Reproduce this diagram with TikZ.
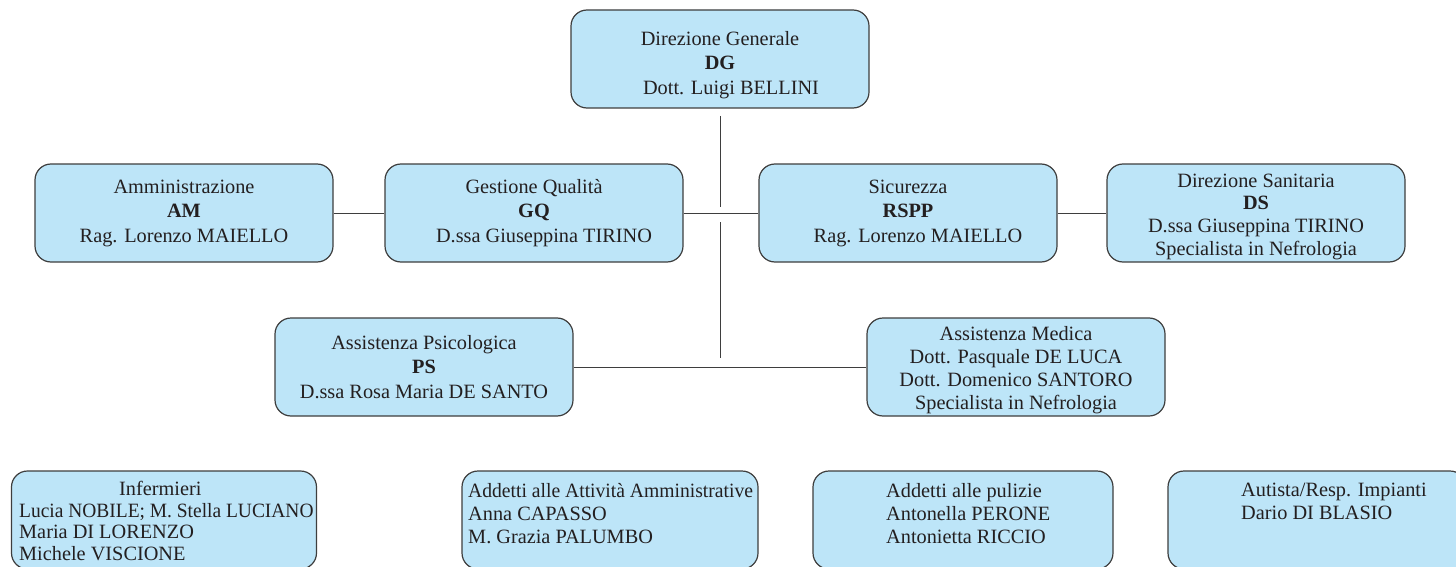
\documentclass[tikz,border=0pt]{standalone}
\usepackage{fontspec}
\usepackage{graphicx}
\setmainfont{Liberation Serif}

\definecolor{boxfill}{RGB}{189,229,248}
\definecolor{boxline}{RGB}{62,62,62}
\definecolor{ink}{RGB}{35,31,32}
\newcommand{\topgap}[1]{\rule{0pt}{#1}}
\newcommand{\squeeze}[2]{\scalebox{#1}[1]{#2}}

\begin{document}
\begin{tikzpicture}[x=1pt,y=-1pt]
  \tikzstyle{box}=[draw=boxline,line width=1.2pt,fill=boxfill,rounded corners=16pt,minimum width=298pt,minimum height=98pt,inner sep=0pt,align=center,text=ink,font=\fontsize{20.3}{24.5}\selectfont]
  \tikzstyle{dense}=[font=\fontsize{20.3}{22.8}\selectfont]
  \tikzstyle{list}=[anchor=north west,inner sep=0pt,align=left,text=ink,font=\fontsize{20.3}{23}\selectfont]
  \tikzstyle{link}=[draw=boxline,line width=1pt]
  \useasboundingbox (0,0) rectangle (1456,567);
  \clip (0,0) rectangle (1456,567);

  \node[box] (dg) at (720,59) {\topgap{26pt}Direzione Generale\\\textbf{DG}\\\hspace*{22pt}Dott. Luigi BELLINI};

  \node[box] (am) at (184,213) {Amministrazione\\\textbf{AM}\\Rag. Lorenzo MAIELLO};
  \node[box] (gq) at (534,213) {Gestione Qualità\\\textbf{GQ}\\\hspace*{20pt}D.ssa Giuseppina TIRINO};
  \node[box] (rspp) at (908,213) {Sicurezza\\\textbf{RSPP}\\\hspace*{20pt}Rag. Lorenzo MAIELLO};
  \node[box,dense] (ds) at (1256,213) {\topgap{21pt}Direzione Sanitaria\\\textbf{DS}\\D.ssa Giuseppina TIRINO\\Specialista in Nefrologia};

  \node[box] (ps) at (424,367) {Assistenza Psicologica\\\textbf{PS}\\D.ssa Rosa Maria DE SANTO};
  \node[box,dense] (med) at (1016,367) {\topgap{20pt}Assistenza Medica\\Dott. Pasquale DE LUCA\\Dott. Domenico SANTORO\\Specialista in Nefrologia};

  \node[box,minimum width=305pt] (inf) at (164,520) {};
  \node[list,font=\fontsize{20.3}{21.7}\selectfont] (inftxt) at (19,481) {\hspace*{100pt}Infermieri\\\squeeze{0.958}{Lucia NOBILE; M. Stella LUCIANO}\\Maria DI LORENZO\\Michele VISCIONE};
  \node[box,minimum width=296pt] (adm) at (610,520) {};
  \node[list] (admtxt) at (468,483) {\squeeze{0.966}{Addetti alle Attività Amministrative}\\Anna CAPASSO\\M. Grazia PALUMBO};
  \node[box,minimum width=300pt] (pul) at (963,520) {};
  \node[list] (pultxt) at (886,483) {Addetti alle pulizie\\Antonella PERONE\\Antonietta RICCIO};
  \node[box] (aut) at (1317,520) {};
  \node[list] (auttxt) at (1241,483) {Autista/Resp. Impianti\\Dario DI BLASIO};

  \coordinate (v1) at (720,116);
  \coordinate (v2) at (720,207);
  \coordinate (v3) at (720,222);
  \coordinate (v4) at (720,358);

  \draw[link] (v1) -- (v2);
  \draw[link] (v3) -- (v4);
  \draw[link] (am) -- (gq);
  \draw[link] (gq) -- (rspp);
  \draw[link] (rspp) -- (ds);
  \draw[link] (ps) -- (med);
\end{tikzpicture}
\end{document}
